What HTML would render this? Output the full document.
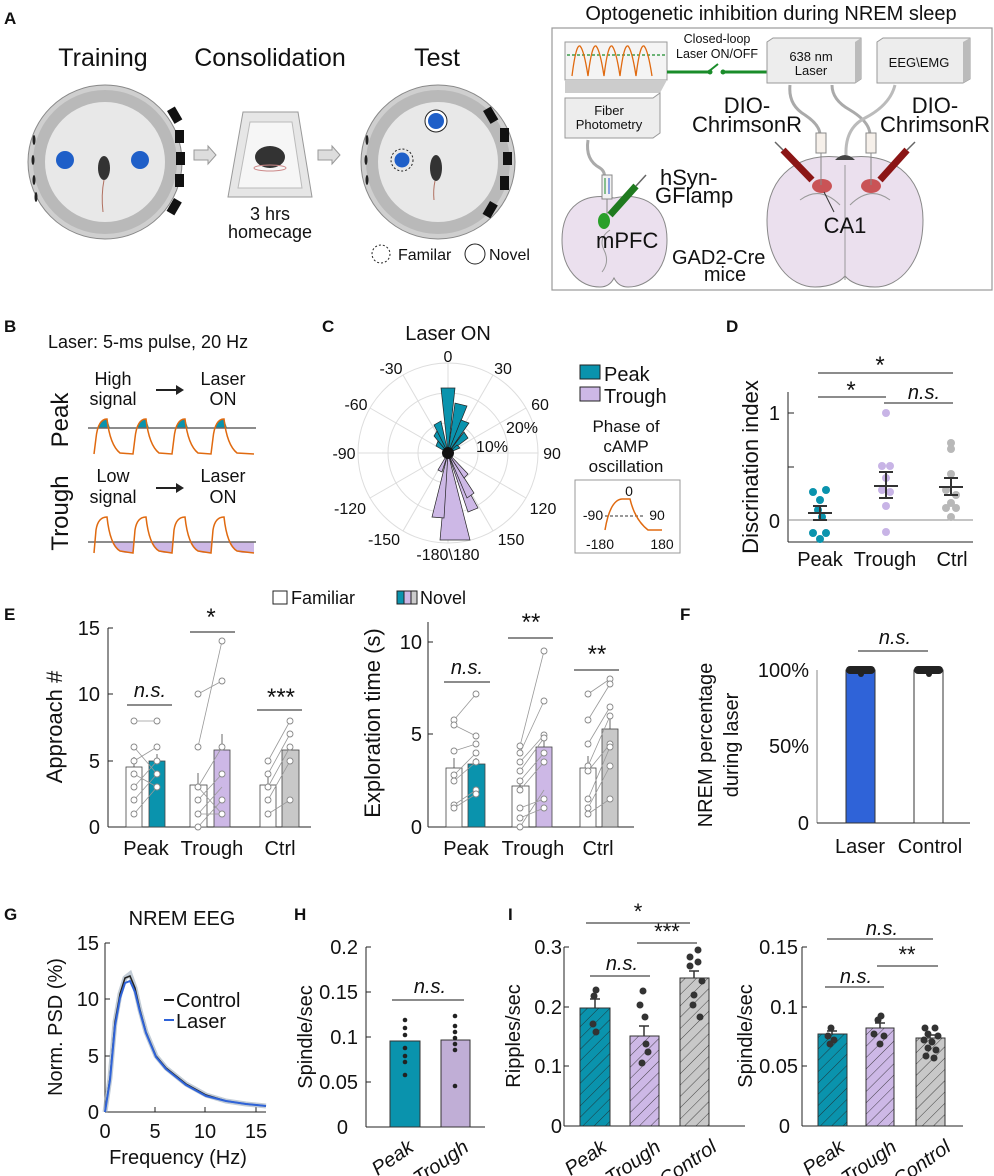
<!DOCTYPE html>
<html><head><meta charset="utf-8"><style>
html,body{margin:0;padding:0;background:#fff}
svg{display:block}
text{font-family:"Liberation Sans",Arial,sans-serif;fill:#111}
</style></head><body>
<svg width="994" height="1176" viewBox="0 0 994 1176" xmlns="http://www.w3.org/2000/svg">
<defs>
<pattern id="hatch" width="8" height="8" patternUnits="userSpaceOnUse" patternTransform="rotate(45)">
<line x1="0" y1="0" x2="0" y2="8" stroke="#222" stroke-width="0.8"/></pattern>
</defs>
<!-- ===== Panel A ===== -->
<text x="4" y="24" font-size="17" font-weight="bold">A</text>
<text x="103" y="66" font-size="25" text-anchor="middle">Training</text>
<text x="270" y="66" font-size="25" text-anchor="middle">Consolidation</text>
<text x="437" y="66" font-size="25" text-anchor="middle">Test</text>
<!-- training arena -->
<g>
<circle cx="105" cy="162" r="77" fill="#cfcfcf" stroke="#888" stroke-width="1"/>
<circle cx="105" cy="162" r="72" fill="#b9b9b9"/>
<circle cx="105" cy="162" r="60" fill="#e8e8e8"/>
<g fill="#111">
<rect x="170" y="108" width="9" height="15" transform="rotate(-30 174 115)"/>
<rect x="175" y="130" width="9" height="13"/>
<rect x="176" y="152" width="9" height="13"/>
<rect x="175" y="174" width="9" height="13"/>
<rect x="170" y="199" width="9" height="15" transform="rotate(30 174 206)"/>
</g>
<g fill="#222"><ellipse cx="34" cy="140" rx="1.5" ry="5"/><ellipse cx="33" cy="160" rx="1.5" ry="5"/><ellipse cx="34" cy="180" rx="1.5" ry="5"/><ellipse cx="36" cy="197" rx="1.5" ry="5"/></g>
<circle cx="65" cy="160" r="9" fill="#1f5fc8"/>
<circle cx="140" cy="160" r="9" fill="#1f5fc8"/>
<ellipse cx="104" cy="168" rx="6" ry="12" fill="#333"/>
<path d="M104 180 Q101 195 103 212" stroke="#b07060" fill="none" stroke-width="1"/>
</g>
<path d="M194 150 h14 v-4 l8 9 l-8 9 v-4 h-14 z" fill="#ddd" stroke="#999"/>
<path d="M318 150 h14 v-4 l8 9 l-8 9 v-4 h-14 z" fill="#ddd" stroke="#999"/>
<!-- cage -->
<path d="M243 112 L298 112 L312 197 L228 197 Z" fill="#e6e6e6" stroke="#999"/>
<path d="M250 122 L292 122 L302 188 L238 188 Z" fill="#f6f6f6" stroke="#bbb"/>
<ellipse cx="270" cy="157" rx="15" ry="11" fill="#333"/>
<ellipse cx="270" cy="168" rx="16" ry="3" fill="none" stroke="#c88" />
<text x="270" y="220" font-size="18" text-anchor="middle">3 hrs</text>
<text x="270" y="238" font-size="18" text-anchor="middle">homecage</text>
<!-- test arena -->
<g>
<circle cx="438" cy="162" r="77" fill="#cfcfcf" stroke="#888" stroke-width="1"/>
<circle cx="438" cy="162" r="72" fill="#b9b9b9"/>
<circle cx="438" cy="162" r="60" fill="#e8e8e8"/>
<g fill="#111">
<rect x="486" y="108" width="9" height="15" transform="rotate(-30 490 115)"/>
<rect x="500" y="128" width="9" height="14"/>
<rect x="503" y="152" width="9" height="13"/>
<rect x="500" y="176" width="9" height="14"/>
<rect x="486" y="202" width="9" height="15" transform="rotate(30 490 209)"/>
</g>
<g fill="#222"><ellipse cx="367" cy="140" rx="1.5" ry="5"/><ellipse cx="366" cy="160" rx="1.5" ry="5"/><ellipse cx="367" cy="180" rx="1.5" ry="5"/></g>
<circle cx="402" cy="160" r="11" fill="none" stroke="#222" stroke-dasharray="2 2"/>
<circle cx="402" cy="160" r="7.5" fill="#1f5fc8"/>
<circle cx="436" cy="121" r="11" fill="#fff" stroke="#222"/>
<circle cx="436" cy="121" r="8" fill="#1f5fc8"/>
<ellipse cx="436" cy="168" rx="6" ry="13" fill="#333"/>
<path d="M435 181 Q433 190 434 200" stroke="#b07060" fill="none"/>
</g>
<circle cx="381" cy="254" r="9" fill="none" stroke="#222" stroke-dasharray="2 2"/>
<text x="398" y="260" font-size="16">Familar</text>
<circle cx="475" cy="254" r="10" fill="none" stroke="#222"/>
<text x="489" y="260" font-size="16">Novel</text>
<!-- right box -->
<text x="771" y="20" font-size="20" text-anchor="middle">Optogenetic inhibition during NREM sleep</text>
<rect x="552" y="28" width="440" height="262" fill="#fff" stroke="#999" stroke-width="1.2"/>
<!-- monitor -->
<path d="M565 42 L667 42 L667 80 L565 80 Z" fill="#f4f4f4" stroke="#999"/>
<path d="M565 80 L667 80 L660 93 L565 93 Z" fill="#ccc"/>
<line x1="567" y1="55" x2="667" y2="55" stroke="#1a8c2a" stroke-dasharray="3 2" stroke-width="1.2"/>
<path d="M572 76 Q576 44 580 46 Q584 50 588 76 Q592 44 596 46 Q600 50 604 76 Q608 44 612 46 Q616 50 620 76 Q624 44 628 46 Q632 50 636 76 Q640 44 644 46 Q648 50 652 76" fill="none" stroke="#e06a10" stroke-width="1.3"/>
<line x1="667" y1="72" x2="708" y2="72" stroke="#1a8c2a" stroke-width="3"/>
<line x1="708" y1="72" x2="718" y2="64" stroke="#1a8c2a" stroke-width="2"/>
<line x1="722" y1="72" x2="767" y2="72" stroke="#1a8c2a" stroke-width="3"/>
<circle cx="710" cy="72" r="2.5" fill="#1a8c2a"/><circle cx="723" cy="72" r="2.5" fill="#1a8c2a"/>
<text x="717" y="43" font-size="12.5" text-anchor="middle">Closed-loop</text>
<text x="717" y="58" font-size="12.5" text-anchor="middle">Laser ON/OFF</text>
<!-- fiber photometry -->
<path d="M565 98 L653 98 L660 93 L660 133 L653 138 L565 138 Z" fill="#ededed" stroke="#999"/>
<text x="609" y="115" font-size="13" text-anchor="middle">Fiber</text>
<text x="609" y="129" font-size="13" text-anchor="middle">Photometry</text>
<!-- laser -->
<path d="M767 42 L773 38 L861 38 L861 79 L855 83 L767 83 Z" fill="#ededed" stroke="#999"/>
<path d="M855 42 L861 38 L861 79 L855 83 Z" fill="#bbb"/>
<text x="811" y="61" font-size="13" text-anchor="middle">638 nm</text>
<text x="811" y="75" font-size="13" text-anchor="middle">Laser</text>
<path d="M877 42 L883 38 L970 38 L970 79 L963 83 L877 83 Z" fill="#ededed" stroke="#999"/>
<path d="M963 42 L970 38 L970 79 L963 83 Z" fill="#bbb"/>
<text x="919" y="67" font-size="13" text-anchor="middle">EEG\EMG</text>
<!-- cables -->
<path d="M588 140 Q585 160 600 168 Q606 172 604 180" fill="none" stroke="#aaa" stroke-width="3"/>
<path d="M790 85 Q788 105 805 115 Q820 125 820 135" fill="none" stroke="#aaa" stroke-width="3"/>
<path d="M832 85 Q832 100 850 110 Q870 122 870 135" fill="none" stroke="#aaa" stroke-width="3"/>
<path d="M895 85 Q890 105 865 118 Q845 128 846 155" fill="none" stroke="#bbb" stroke-width="3"/>
<!-- mPFC brain -->
<path d="M614 198 C585 192 562 205 562 240 C562 270 580 287 600 287 C608 287 612 282 614 278 C616 282 620 287 628 287 C648 287 667 270 667 240 C667 205 643 192 614 198 Z" fill="#ebe0ee" stroke="#888"/>
<path d="M610 230 Q598 238 604 250 Q610 262 602 272" fill="none" stroke="#999"/>
<rect x="602" y="175" width="10" height="24" fill="#f2f2f2" stroke="#888"/>
<line x1="605" y1="178" x2="605" y2="194" stroke="#1a8c2a"/><line x1="609" y1="178" x2="609" y2="194" stroke="#2050d0"/>
<line x1="607" y1="199" x2="607" y2="226" stroke="#888"/>
<ellipse cx="604" cy="221" rx="6" ry="8" fill="#2aa02a"/>
<line x1="610" y1="215" x2="636" y2="186" stroke="#1f7a1f" stroke-width="7"/>
<line x1="636" y1="186" x2="646" y2="175" stroke="#666" stroke-width="1.5"/>
<text x="660" y="185" font-size="22">hSyn-</text>
<text x="655" y="203" font-size="22">GFlamp</text>
<text x="596" y="248" font-size="22">mPFC</text>
<text x="672" y="264" font-size="20">GAD2-Cre</text>
<text x="725" y="281" font-size="20" text-anchor="middle">mice</text>
<!-- CA1 brain -->
<path d="M845 158 C800 150 767 175 767 220 C767 262 790 287 815 287 C830 287 840 282 845 276 C850 282 860 287 875 287 C900 287 923 262 923 220 C923 175 890 150 845 158 Z" fill="#ebe0ee" stroke="#888"/>
<path d="M835 160 Q845 150 855 160 Z" fill="#444"/>
<path d="M800 200 Q820 185 840 205 M890 200 Q870 185 850 205 M845 165 L845 280" fill="none" stroke="#999"/>
<ellipse cx="822" cy="186" rx="10" ry="7" fill="#c03030" opacity="0.8"/>
<ellipse cx="871" cy="186" rx="10" ry="7" fill="#c03030" opacity="0.8"/>
<rect x="816" y="133" width="10" height="20" fill="#f6f0ea" stroke="#888"/>
<rect x="866" y="133" width="10" height="20" fill="#f6f0ea" stroke="#888"/>
<line x1="821" y1="153" x2="821" y2="185" stroke="#888"/><line x1="871" y1="153" x2="871" y2="185" stroke="#888"/>
<line x1="783" y1="150" x2="812" y2="180" stroke="#8b1515" stroke-width="7"/>
<line x1="907" y1="150" x2="880" y2="180" stroke="#8b1515" stroke-width="7"/>
<line x1="775" y1="142" x2="783" y2="150" stroke="#666" stroke-width="1.5"/>
<line x1="915" y1="142" x2="907" y2="150" stroke="#666" stroke-width="1.5"/>
<line x1="824" y1="192" x2="834" y2="212" stroke="#333"/>
<text x="747" y="113" font-size="22" text-anchor="middle">DIO-</text>
<text x="747" y="132" font-size="22" text-anchor="middle">ChrimsonR</text>
<text x="935" y="113" font-size="22" text-anchor="middle">DIO-</text>
<text x="935" y="132" font-size="22" text-anchor="middle">ChrimsonR</text>
<text x="845" y="233" font-size="22" text-anchor="middle">CA1</text>

<!-- ===== Panel B ===== -->
<text x="4" y="332" font-size="17" font-weight="bold">B</text>
<text x="48" y="348" font-size="18">Laser: 5-ms pulse, 20 Hz</text>
<text transform="translate(68,420) rotate(-90)" font-size="24" text-anchor="middle">Peak</text>
<text transform="translate(68,513) rotate(-90)" font-size="24" text-anchor="middle">Trough</text>
<text x="113" y="385" font-size="18" text-anchor="middle">High</text>
<text x="113" y="405" font-size="18" text-anchor="middle">signal</text>
<text x="223" y="385" font-size="18" text-anchor="middle">Laser</text>
<text x="223" y="405" font-size="18" text-anchor="middle">ON</text>
<path d="M156 390 h22" stroke="#222" stroke-width="2"/><path d="M176 385 l8 5 l-8 5z" fill="#222"/>
<text x="113" y="482" font-size="18" text-anchor="middle">Low</text>
<text x="113" y="503" font-size="18" text-anchor="middle">signal</text>
<text x="223" y="482" font-size="18" text-anchor="middle">Laser</text>
<text x="223" y="503" font-size="18" text-anchor="middle">ON</text>
<path d="M156 488 h22" stroke="#222" stroke-width="2"/><path d="M176 483 l8 5 l-8 5z" fill="#222"/>
<!-- peak trace -->
<g fill="#0a93ad">
<path d="M98 428 Q100 419 107 419 L110 428 Z"/><path d="M137 428 Q139 419 146 419 L149 428 Z"/><path d="M176 428 Q178 419 185 419 L188 428 Z"/><path d="M215 428 Q217 419 224 419 L227 428 Z"/>
</g>
<line x1="88" y1="428" x2="256" y2="428" stroke="#666" stroke-width="1.5"/>
<path d="M94 454 L96 438 Q98 419 107 419 Q110 445 120 453 L133 454 L135 438 Q137 419 146 419 Q149 445 159 453 L172 454 L174 438 Q176 419 185 419 Q188 445 198 453 L211 454 L213 438 Q215 419 224 419 Q227 445 237 453 L254 454" fill="none" stroke="#e06a10" stroke-width="1.5"/>
<!-- trough trace -->
<g fill="#cdb8e6">
<path d="M112 542 Q115 551 125 553 L133 553 L133 542 Z"/><path d="M151 542 Q154 551 164 553 L172 553 L172 542 Z"/><path d="M190 542 Q193 551 203 553 L211 553 L211 542 Z"/><path d="M229 542 Q232 551 242 553 L254 553 L254 542 Z"/>
</g>
<line x1="88" y1="542" x2="256" y2="542" stroke="#666" stroke-width="1.5"/>
<path d="M94 553 L96 530 Q98 517 107 517 Q110 545 120 551 L133 553 L135 530 Q137 517 146 517 Q149 545 159 551 L172 553 L174 530 Q176 517 185 517 Q188 545 198 551 L211 553 L213 530 Q215 517 224 517 Q227 545 237 551 L254 553" fill="none" stroke="#e06a10" stroke-width="1.5"/>

<!-- ===== Panel C ===== -->
<text x="322" y="332" font-size="17" font-weight="bold">C</text>
<text x="448" y="340" font-size="20" text-anchor="middle">Laser ON</text>
<g stroke="#ddd" fill="none" stroke-width="1">
<circle cx="448" cy="453" r="90"/><circle cx="448" cy="453" r="60"/><circle cx="448" cy="453" r="30"/>
<line x1="358" y1="453" x2="538" y2="453"/><line x1="448" y1="363" x2="448" y2="543"/>
<line x1="403" y1="375" x2="493" y2="531"/><line x1="493" y1="375" x2="403" y2="531"/>
<line x1="370" y1="408" x2="526" y2="498"/><line x1="526" y1="408" x2="370" y2="498"/>
</g>
<g stroke="#222" stroke-width="0.7">
<path d="M448 453 L441 388 L455 388 Z" fill="#0a93ad"/>
<path d="M448 453 L455 403 L467 406 Z" fill="#0a93ad"/>
<path d="M448 453 L461 420 L469 423 Z" fill="#0a93ad"/>
<path d="M448 453 L464 432 L468 438 Z" fill="#0a93ad"/>
<path d="M448 453 L434 425 L441 421 Z" fill="#0a93ad"/>
<path d="M448 453 L434 436 L437 431 Z" fill="#0a93ad"/>
<path d="M448 453 L436 446 L438 441 Z" fill="#0a93ad"/>
<path d="M448 453 L457 445 L460 448 Z" fill="#0a93ad"/>
<path d="M448 453 L440 540 L470 540 Z" fill="#cdb8e6"/>
<path d="M448 453 L478 508 L468 512 Z" fill="#cdb8e6"/>
<path d="M448 453 L474 493 L467 498 Z" fill="#cdb8e6"/>
<path d="M448 453 L432 517 L444 518 Z" fill="#cdb8e6"/>
<path d="M448 453 L468 474 L464 478 Z" fill="#cdb8e6"/>
<path d="M448 453 L438 470 L442 472 Z" fill="#cdb8e6"/>
</g>
<circle cx="448" cy="453" r="6" fill="#111"/>
<g font-size="16" text-anchor="middle">
<text x="448" y="362">0</text><text x="391" y="374">-30</text><text x="503" y="374">30</text>
<text x="356" y="410">-60</text><text x="540" y="410">60</text>
<text x="344" y="459">-90</text><text x="552" y="459">90</text>
<text x="350" y="514">-120</text><text x="543" y="514">120</text>
<text x="384" y="545">-150</text><text x="511" y="545">150</text>
<text x="448" y="560">-180\180</text>
<text x="522" y="433">20%</text><text x="492" y="452">10%</text>
</g>
<rect x="580" y="365" width="20" height="14" fill="#0a93ad" stroke="#222"/>
<text x="604" y="381" font-size="20">Peak</text>
<rect x="580" y="387" width="20" height="14" fill="#cdb8e6" stroke="#222"/>
<text x="604" y="403" font-size="20">Trough</text>
<text x="626" y="432" font-size="17" text-anchor="middle">Phase of</text>
<text x="626" y="452" font-size="17" text-anchor="middle">cAMP</text>
<text x="626" y="472" font-size="17" text-anchor="middle">oscillation</text>
<rect x="575" y="480" width="105" height="73" fill="#fff" stroke="#999"/>
<text x="629" y="496" font-size="14" text-anchor="middle">0</text>
<text x="593" y="520" font-size="14" text-anchor="middle">-90</text>
<text x="657" y="520" font-size="14" text-anchor="middle">90</text>
<text x="600" y="549" font-size="14" text-anchor="middle">-180</text>
<text x="662" y="549" font-size="14" text-anchor="middle">180</text>
<line x1="605" y1="516" x2="645" y2="516" stroke="#333" stroke-dasharray="3 2"/>
<path d="M605 530 Q610 500 622 499 L630 499 Q635 520 648 530 L662 530" fill="none" stroke="#e06a10" stroke-width="1.5"/>

<!-- ===== Panel D ===== -->
<text x="726" y="332" font-size="17" font-weight="bold">D</text>
<text transform="translate(758,467) rotate(-90)" font-size="22" text-anchor="middle">Discrination index</text>
<line x1="788" y1="392" x2="788" y2="542" stroke="#222"/>
<line x1="788" y1="542" x2="973" y2="542" stroke="#222"/>
<line x1="788" y1="520" x2="973" y2="520" stroke="#888"/>
<line x1="788" y1="413" x2="794" y2="413" stroke="#222"/><line x1="788" y1="467" x2="794" y2="467" stroke="#222"/>
<text x="780" y="420" font-size="20" text-anchor="end">1</text>
<text x="780" y="528" font-size="20" text-anchor="end">0</text>
<line x1="818" y1="373" x2="953" y2="373" stroke="#666" stroke-width="1.5"/>
<text x="880" y="373" font-size="24" text-anchor="middle">*</text>
<line x1="818" y1="397" x2="886" y2="397" stroke="#666" stroke-width="1.5"/>
<text x="851" y="398" font-size="24" text-anchor="middle">*</text>
<line x1="884" y1="403" x2="953" y2="403" stroke="#666" stroke-width="1.5"/>
<text x="924" y="399" font-size="20" font-style="italic" text-anchor="middle">n.s.</text>
<g fill="#0a93ad"><circle cx="813" cy="492" r="4"/><circle cx="826" cy="490" r="4"/><circle cx="820" cy="500" r="4"/><circle cx="818" cy="510" r="4"/><circle cx="822" cy="517" r="4"/><circle cx="813" cy="533" r="4"/><circle cx="826" cy="533" r="4"/><circle cx="820" cy="539" r="4"/></g>
<g fill="#c8b4e6"><circle cx="886" cy="413" r="4"/><circle cx="882" cy="466" r="4"/><circle cx="890" cy="466" r="4"/><circle cx="886" cy="478" r="4"/><circle cx="882" cy="490" r="4"/><circle cx="890" cy="492" r="4"/><circle cx="886" cy="506" r="4"/><circle cx="886" cy="532" r="4"/></g>
<g fill="#b8b8b8"><circle cx="951" cy="443" r="4"/><circle cx="951" cy="449" r="4"/><circle cx="951" cy="474" r="4"/><circle cx="946" cy="490" r="4"/><circle cx="956" cy="495" r="4"/><circle cx="951" cy="503" r="4"/><circle cx="946" cy="508" r="4"/><circle cx="956" cy="508" r="4"/><circle cx="951" cy="517" r="4"/></g>
<g stroke="#333" stroke-width="2">
<line x1="808" y1="513" x2="832" y2="513"/><line x1="820" y1="506" x2="820" y2="520"/><line x1="813" y1="506" x2="827" y2="506"/><line x1="813" y1="520" x2="827" y2="520"/>
<line x1="874" y1="486" x2="898" y2="486"/><line x1="886" y1="472" x2="886" y2="498"/><line x1="879" y1="472" x2="893" y2="472"/><line x1="879" y1="498" x2="893" y2="498"/>
<line x1="939" y1="487" x2="963" y2="487"/><line x1="951" y1="478" x2="951" y2="495"/><line x1="944" y1="478" x2="958" y2="478"/><line x1="944" y1="495" x2="958" y2="495"/>
</g>
<text x="820" y="566" font-size="20" text-anchor="middle">Peak</text>
<text x="885" y="566" font-size="20" text-anchor="middle">Trough</text>
<text x="952" y="566" font-size="20" text-anchor="middle">Ctrl</text>

<!-- ===== Panel E ===== -->
<text x="4" y="620" font-size="17" font-weight="bold">E</text>
<rect x="273" y="591" width="14" height="13" fill="#fff" stroke="#222"/>
<text x="291" y="604" font-size="18">Familiar</text>
<rect x="397" y="591" width="7" height="13" fill="#0a93ad" stroke="#222"/><rect x="404" y="591" width="7" height="13" fill="#cdb8e6" stroke="#222"/><rect x="411" y="591" width="6" height="13" fill="#ccc" stroke="#222"/>
<text x="420" y="604" font-size="18">Novel</text>
<!-- left E -->
<text transform="translate(62,727) rotate(-90)" font-size="22" text-anchor="middle">Approach #</text>
<line x1="108" y1="628" x2="108" y2="827" stroke="#222"/>
<line x1="108" y1="827" x2="311" y2="827" stroke="#222"/>
<g stroke="#222"><line x1="108" y1="628" x2="113" y2="628"/><line x1="108" y1="694" x2="113" y2="694"/><line x1="108" y1="761" x2="113" y2="761"/></g>
<g font-size="20" text-anchor="end"><text x="100" y="635">15</text><text x="100" y="701">10</text><text x="100" y="768">5</text><text x="100" y="834">0</text></g>
<g stroke="#444" stroke-width="0.8">
<rect x="126" y="767" width="16" height="60" fill="#fff"/><rect x="149" y="761" width="16" height="66" fill="#0a93ad"/>
<rect x="190" y="785" width="17" height="42" fill="#fff"/><rect x="214" y="750" width="16" height="77" fill="#cdb8e6"/>
<rect x="260" y="785" width="16" height="42" fill="#fff"/><rect x="282" y="750" width="17" height="77" fill="#c8c8c8"/>
<path d="M134 767 V757 M157 761 V754 M198 785 V773 M222 750 V734 M268 785 V777 M290 750 V744" fill="none"/>
</g>
<g stroke="#999" stroke-width="0.8" fill="none">
<path d="M134 721 L157 721 M134 747 L157 774 M134 761 L157 747 M134 774 L157 787 M134 787 L157 761 M134 800 L157 774 M134 814 L157 787"/>
<path d="M198 694 L222 681 M198 747 L222 641 M198 787 L222 747 M198 800 L222 774 M198 814 L222 787 M198 827 L222 800 M198 787 L222 814 M198 814 L222 814"/>
<path d="M268 761 L290 721 M268 774 L290 734 M268 787 L290 747 M268 800 L290 761 M268 814 L290 800"/>
</g>
<g fill="#fff" stroke="#888" stroke-width="0.9">
<circle cx="134" cy="721" r="3"/><circle cx="134" cy="747" r="3"/><circle cx="134" cy="761" r="3"/><circle cx="134" cy="774" r="3"/><circle cx="134" cy="787" r="3"/><circle cx="134" cy="800" r="3"/><circle cx="134" cy="814" r="3"/>
<circle cx="157" cy="721" r="3"/><circle cx="157" cy="747" r="3"/><circle cx="157" cy="761" r="3"/><circle cx="157" cy="774" r="3"/><circle cx="157" cy="787" r="3"/>
<circle cx="198" cy="694" r="3"/><circle cx="198" cy="747" r="3"/><circle cx="198" cy="787" r="3"/><circle cx="198" cy="800" r="3"/><circle cx="198" cy="814" r="3"/><circle cx="198" cy="827" r="3"/>
<circle cx="222" cy="641" r="3"/><circle cx="222" cy="681" r="3"/><circle cx="222" cy="747" r="3"/><circle cx="222" cy="774" r="3"/><circle cx="222" cy="800" r="3"/><circle cx="222" cy="814" r="3"/>
<circle cx="268" cy="761" r="3"/><circle cx="268" cy="774" r="3"/><circle cx="268" cy="787" r="3"/><circle cx="268" cy="800" r="3"/><circle cx="268" cy="814" r="3"/>
<circle cx="290" cy="721" r="3"/><circle cx="290" cy="734" r="3"/><circle cx="290" cy="747" r="3"/><circle cx="290" cy="761" r="3"/><circle cx="290" cy="800" r="3"/>
</g>
<g stroke="#666" stroke-width="1.5"><line x1="127" y1="705" x2="172" y2="705"/><line x1="190" y1="632" x2="235" y2="632"/><line x1="257" y1="710" x2="302" y2="710"/></g>
<text x="150" y="697" font-size="20" font-style="italic" text-anchor="middle">n.s.</text>
<text x="211" y="625" font-size="24" text-anchor="middle">*</text>
<text x="281" y="705" font-size="24" text-anchor="middle">***</text>
<text x="146" y="855" font-size="20" text-anchor="middle">Peak</text>
<text x="212" y="855" font-size="20" text-anchor="middle">Trough</text>
<text x="280" y="855" font-size="20" text-anchor="middle">Ctrl</text>
<!-- right E -->
<text transform="translate(380,723) rotate(-90)" font-size="22" text-anchor="middle">Exploration time (s)</text>
<line x1="428" y1="622" x2="428" y2="827" stroke="#222"/>
<line x1="428" y1="827" x2="634" y2="827" stroke="#222"/>
<g stroke="#222"><line x1="428" y1="642" x2="433" y2="642"/><line x1="428" y1="734" x2="433" y2="734"/></g>
<g font-size="20" text-anchor="end"><text x="422" y="649">10</text><text x="422" y="741">5</text><text x="422" y="834">0</text></g>
<g stroke="#444" stroke-width="0.8">
<rect x="446" y="768" width="16" height="59" fill="#fff"/><rect x="468" y="764" width="17" height="63" fill="#0a93ad"/>
<rect x="512" y="786" width="17" height="41" fill="#fff"/><rect x="536" y="747" width="16" height="80" fill="#cdb8e6"/>
<rect x="580" y="768" width="16" height="59" fill="#fff"/><rect x="602" y="729" width="16" height="98" fill="#c8c8c8"/>
<path d="M454 768 V758 M476 764 V758 M520 786 V778 M544 747 V735 M588 768 V756 M610 729 V716" fill="none"/>
</g>
<g stroke="#999" stroke-width="0.8" fill="none">
<path d="M454 720 L476 694 M454 725 L476 736 M454 751 L476 744 M454 775 L476 753 M454 781 L476 762 M454 805 L476 790 M454 808 L476 794"/>
<path d="M520 746 L544 651 M520 753 L544 701 M520 762 L544 735 M520 771 L544 738 M520 781 L544 753 M520 790 L544 762 M520 808 L544 799 M520 818 L544 808 M520 827 L544 790"/>
<path d="M588 694 L610 679 M588 720 L610 684 M588 744 L610 707 M588 766 L610 716 M588 771 L610 744 M588 799 L610 747 M588 808 L610 766 M588 814 L610 799"/>
</g>
<g fill="#fff" stroke="#888" stroke-width="0.9">
<circle cx="454" cy="720" r="3"/><circle cx="454" cy="725" r="3"/><circle cx="454" cy="751" r="3"/><circle cx="454" cy="775" r="3"/><circle cx="454" cy="781" r="3"/><circle cx="454" cy="805" r="3"/><circle cx="454" cy="808" r="3"/>
<circle cx="476" cy="694" r="3"/><circle cx="476" cy="736" r="3"/><circle cx="476" cy="744" r="3"/><circle cx="476" cy="753" r="3"/><circle cx="476" cy="762" r="3"/><circle cx="476" cy="790" r="3"/><circle cx="476" cy="794" r="3"/>
<circle cx="520" cy="746" r="3"/><circle cx="520" cy="753" r="3"/><circle cx="520" cy="762" r="3"/><circle cx="520" cy="771" r="3"/><circle cx="520" cy="781" r="3"/><circle cx="520" cy="790" r="3"/><circle cx="520" cy="808" r="3"/><circle cx="520" cy="818" r="3"/><circle cx="520" cy="827" r="3"/>
<circle cx="544" cy="651" r="3"/><circle cx="544" cy="701" r="3"/><circle cx="544" cy="735" r="3"/><circle cx="544" cy="738" r="3"/><circle cx="544" cy="753" r="3"/><circle cx="544" cy="762" r="3"/><circle cx="544" cy="799" r="3"/><circle cx="544" cy="808" r="3"/>
<circle cx="588" cy="694" r="3"/><circle cx="588" cy="720" r="3"/><circle cx="588" cy="744" r="3"/><circle cx="588" cy="766" r="3"/><circle cx="588" cy="771" r="3"/><circle cx="588" cy="799" r="3"/><circle cx="588" cy="808" r="3"/><circle cx="588" cy="814" r="3"/>
<circle cx="610" cy="679" r="3"/><circle cx="610" cy="684" r="3"/><circle cx="610" cy="707" r="3"/><circle cx="610" cy="716" r="3"/><circle cx="610" cy="744" r="3"/><circle cx="610" cy="747" r="3"/><circle cx="610" cy="766" r="3"/><circle cx="610" cy="799" r="3"/>
</g>
<g stroke="#666" stroke-width="1.5"><line x1="444" y1="682" x2="490" y2="682"/><line x1="508" y1="638" x2="553" y2="638"/><line x1="574" y1="670" x2="619" y2="670"/></g>
<text x="467" y="674" font-size="20" font-style="italic" text-anchor="middle">n.s.</text>
<text x="531" y="630" font-size="24" text-anchor="middle">**</text>
<text x="597" y="662" font-size="24" text-anchor="middle">**</text>
<text x="466" y="855" font-size="20" text-anchor="middle">Peak</text>
<text x="533" y="855" font-size="20" text-anchor="middle">Trough</text>
<text x="598" y="855" font-size="20" text-anchor="middle">Ctrl</text>

<!-- ===== Panel F ===== -->
<text x="680" y="620" font-size="17" font-weight="bold">F</text>
<text transform="translate(712,745) rotate(-90)" font-size="20" text-anchor="middle">NREM percentage</text>
<text transform="translate(738,745) rotate(-90)" font-size="20" text-anchor="middle">during laser</text>
<line x1="817" y1="670" x2="817" y2="823" stroke="#888"/>
<line x1="817" y1="823" x2="970" y2="823" stroke="#222"/>
<g font-size="20" text-anchor="end"><text x="809" y="677">100%</text><text x="809" y="753">50%</text><text x="809" y="830">0</text></g>
<rect x="846" y="670" width="29" height="153" fill="#2f63d8" stroke="#333"/>
<rect x="914" y="670" width="29" height="153" fill="#fff" stroke="#333"/>
<g fill="#222"><rect x="846" y="666" width="29" height="8" rx="4"/><circle cx="861" cy="674" r="3"/><rect x="914" y="666" width="29" height="8" rx="4"/><circle cx="929" cy="674" r="3"/></g>
<line x1="858" y1="651" x2="928" y2="651" stroke="#666" stroke-width="1.5"/>
<text x="895" y="644" font-size="20" font-style="italic" text-anchor="middle">n.s.</text>
<text x="860" y="853" font-size="20" text-anchor="middle">Laser</text>
<text x="930" y="853" font-size="20" text-anchor="middle">Control</text>

<!-- ===== Panel G ===== -->
<text x="4" y="920" font-size="17" font-weight="bold">G</text>
<text x="182" y="925" font-size="20" text-anchor="middle">NREM EEG</text>
<text transform="translate(62,1027) rotate(-90)" font-size="20" text-anchor="middle">Norm. PSD (%)</text>
<line x1="105" y1="943" x2="105" y2="1112" stroke="#222"/>
<line x1="105" y1="1112" x2="266" y2="1112" stroke="#222"/>
<g stroke="#222"><line x1="105" y1="943" x2="110" y2="943"/><line x1="105" y1="999" x2="110" y2="999"/><line x1="105" y1="1056" x2="110" y2="1056"/>
<line x1="155" y1="1112" x2="155" y2="1107"/><line x1="205" y1="1112" x2="205" y2="1107"/><line x1="256" y1="1112" x2="256" y2="1107"/></g>
<g font-size="20" text-anchor="end"><text x="99" y="950">15</text><text x="99" y="1006">10</text><text x="99" y="1063">5</text><text x="99" y="1119">0</text></g>
<g font-size="20" text-anchor="middle"><text x="105" y="1138">0</text><text x="155" y="1138">5</text><text x="205" y="1138">10</text><text x="256" y="1138">15</text></g>
<text x="178" y="1164" font-size="20" text-anchor="middle">Frequency (Hz)</text>
<path d="M105 1112 L110 1078 L115 1022 L120 994 L125 978 L130 974 L135 988 L140 1010 L146 1032 L156 1056 L166 1068 L176 1076 L186 1084 L206 1095 L226 1101 L246 1104 L266 1106" fill="none" stroke="#9ab" stroke-width="5" opacity="0.6"/>
<path d="M105 1112 L110 1078 L115 1022 L120 994 L125 978 L130 976 L135 988 L140 1010 L146 1032 L156 1056 L166 1068 L176 1076 L186 1084 L206 1095 L226 1101 L246 1104 L266 1106" fill="none" stroke="#222" stroke-width="1.5"/>
<path d="M105 1112 L110 1080 L115 1026 L120 998 L125 983 L130 981 L135 992 L140 1012 L146 1033 L156 1057 L166 1069 L176 1077 L186 1085 L206 1096 L226 1101 L246 1104 L266 1106" fill="none" stroke="#2f63d8" stroke-width="2"/>
<line x1="164" y1="1000" x2="174" y2="1000" stroke="#222" stroke-width="2"/>
<text x="176" y="1007" font-size="20">Control</text>
<line x1="164" y1="1020" x2="174" y2="1020" stroke="#2f63d8" stroke-width="2"/>
<text x="176" y="1028" font-size="20">Laser</text>

<!-- ===== Panel H ===== -->
<text x="294" y="920" font-size="17" font-weight="bold">H</text>
<text transform="translate(312,1037) rotate(-90)" font-size="20" text-anchor="middle">Spindle/sec</text>
<line x1="366" y1="947" x2="366" y2="1127" stroke="#222"/>
<line x1="366" y1="1127" x2="485" y2="1127" stroke="#222"/>
<g stroke="#222"><line x1="366" y1="947" x2="371" y2="947"/><line x1="366" y1="992" x2="371" y2="992"/><line x1="366" y1="1037" x2="371" y2="1037"/><line x1="366" y1="1082" x2="371" y2="1082"/></g>
<g font-size="20" text-anchor="end"><text x="358" y="954">0.2</text><text x="358" y="999">0.15</text><text x="358" y="1044">0.1</text><text x="358" y="1089">0.05</text><text x="348" y="1134">0</text></g>
<rect x="390" y="1041" width="30" height="86" fill="#0a93ad" stroke="#333"/>
<rect x="441" y="1040" width="29" height="87" fill="#c0aed6" stroke="#333"/>
<g fill="#222"><circle cx="405" cy="1020" r="2.3"/><circle cx="405" cy="1028" r="2.3"/><circle cx="405" cy="1035" r="2.3"/><circle cx="405" cy="1048" r="2.3"/><circle cx="405" cy="1056" r="2.3"/><circle cx="405" cy="1062" r="2.3"/><circle cx="405" cy="1075" r="2.3"/>
<circle cx="455" cy="1016" r="2.3"/><circle cx="455" cy="1026" r="2.3"/><circle cx="455" cy="1032" r="2.3"/><circle cx="455" cy="1038" r="2.3"/><circle cx="455" cy="1044" r="2.3"/><circle cx="455" cy="1050" r="2.3"/><circle cx="455" cy="1086" r="2.3"/></g>
<line x1="392" y1="1000" x2="464" y2="1000" stroke="#666" stroke-width="1.5"/>
<text x="430" y="993" font-size="20" font-style="italic" text-anchor="middle">n.s.</text>
<text transform="translate(415,1150) rotate(-35)" font-size="20" font-style="italic" text-anchor="end">Peak</text>
<text transform="translate(470,1150) rotate(-35)" font-size="20" font-style="italic" text-anchor="end">Trough</text>

<!-- ===== Panel I left ===== -->
<text x="508" y="920" font-size="17" font-weight="bold">I</text>
<text transform="translate(520,1036) rotate(-90)" font-size="20" text-anchor="middle">Ripples/sec</text>
<line x1="564" y1="947" x2="564" y2="1126" stroke="#222"/>
<line x1="564" y1="1126" x2="745" y2="1126" stroke="#222"/>
<g stroke="#222"><line x1="564" y1="947" x2="569" y2="947"/><line x1="564" y1="1007" x2="569" y2="1007"/><line x1="564" y1="1066" x2="569" y2="1066"/></g>
<g font-size="20" text-anchor="end"><text x="562" y="954">0.3</text><text x="562" y="1014">0.2</text><text x="562" y="1073">0.1</text><text x="562" y="1133">0</text></g>
<rect x="580" y="1008" width="30" height="118" fill="#0a93ad" stroke="#333"/><rect x="580" y="1008" width="30" height="118" fill="url(#hatch)"/>
<rect x="630" y="1036" width="29" height="90" fill="#cdb8e6" stroke="#333"/><rect x="630" y="1036" width="29" height="90" fill="url(#hatch)"/>
<rect x="680" y="978" width="29" height="148" fill="#c8c8c8" stroke="#333"/><rect x="680" y="978" width="29" height="148" fill="url(#hatch)"/>
<g stroke="#333" stroke-width="1.5"><path d="M595 1008 V999 M590 999 h10 M644 1036 V1026 M639 1026 h10 M694 978 V971 M689 971 h10"/></g>
<g fill="#333"><circle cx="596" cy="990" r="3.5"/><circle cx="594" cy="996" r="3.5"/><circle cx="593" cy="1024" r="3.5"/><circle cx="596" cy="1032" r="3.5"/>
<circle cx="643" cy="991" r="3.5"/><circle cx="640" cy="1005" r="3.5"/><circle cx="645" cy="1017" r="3.5"/><circle cx="646" cy="1044" r="3.5"/><circle cx="648" cy="1052" r="3.5"/><circle cx="642" cy="1063" r="3.5"/>
<circle cx="698" cy="950" r="3.5"/><circle cx="690" cy="957" r="3.5"/><circle cx="698" cy="962" r="3.5"/><circle cx="690" cy="966" r="3.5"/><circle cx="702" cy="981" r="3.5"/><circle cx="694" cy="995" r="3.5"/><circle cx="693" cy="1005" r="3.5"/><circle cx="700" cy="1017" r="3.5"/></g>
<g stroke="#666" stroke-width="1.5"><line x1="586" y1="923" x2="690" y2="923"/><line x1="637" y1="943" x2="697" y2="943"/><line x1="590" y1="976" x2="650" y2="976"/></g>
<text x="638" y="919" font-size="22" text-anchor="middle">*</text>
<text x="667" y="939" font-size="22" text-anchor="middle">***</text>
<text x="622" y="970" font-size="20" font-style="italic" text-anchor="middle">n.s.</text>
<text transform="translate(608,1150) rotate(-35)" font-size="20" font-style="italic" text-anchor="end">Peak</text>
<text transform="translate(662,1150) rotate(-35)" font-size="20" font-style="italic" text-anchor="end">Trough</text>
<text transform="translate(718,1150) rotate(-35)" font-size="20" font-style="italic" text-anchor="end">Control</text>

<!-- ===== Panel I right ===== -->
<text transform="translate(752,1036) rotate(-90)" font-size="20" text-anchor="middle">Spindle/sec</text>
<line x1="802" y1="947" x2="802" y2="1126" stroke="#222"/>
<line x1="802" y1="1126" x2="963" y2="1126" stroke="#222"/>
<g stroke="#222"><line x1="802" y1="947" x2="807" y2="947"/><line x1="802" y1="1007" x2="807" y2="1007"/><line x1="802" y1="1066" x2="807" y2="1066"/></g>
<g font-size="20" text-anchor="end"><text x="798" y="954">0.15</text><text x="798" y="1014">0.1</text><text x="798" y="1073">0.05</text><text x="790" y="1133">0</text></g>
<rect x="818" y="1034" width="29" height="92" fill="#0a93ad" stroke="#333"/><rect x="818" y="1034" width="29" height="92" fill="url(#hatch)"/>
<rect x="866" y="1028" width="28" height="98" fill="#cdb8e6" stroke="#333"/><rect x="866" y="1028" width="28" height="98" fill="url(#hatch)"/>
<rect x="916" y="1038" width="29" height="88" fill="#c8c8c8" stroke="#333"/><rect x="916" y="1038" width="29" height="88" fill="url(#hatch)"/>
<g stroke="#333" stroke-width="1.5"><path d="M832 1034 V1031 M827 1031 h10 M880 1028 V1023 M875 1023 h10 M930 1038 V1035 M925 1035 h10"/></g>
<g fill="#333"><circle cx="831" cy="1028" r="3.5"/><circle cx="828" cy="1036" r="3.5"/><circle cx="834" cy="1040" r="3.5"/><circle cx="830" cy="1044" r="3.5"/>
<circle cx="881" cy="1016" r="3.5"/><circle cx="878" cy="1020" r="3.5"/><circle cx="874" cy="1034" r="3.5"/><circle cx="884" cy="1036" r="3.5"/><circle cx="880" cy="1044" r="3.5"/>
<circle cx="925" cy="1028" r="3.5"/><circle cx="935" cy="1028" r="3.5"/><circle cx="928" cy="1034" r="3.5"/><circle cx="938" cy="1036" r="3.5"/><circle cx="924" cy="1040" r="3.5"/><circle cx="932" cy="1042" r="3.5"/><circle cx="928" cy="1048" r="3.5"/><circle cx="936" cy="1050" r="3.5"/><circle cx="926" cy="1056" r="3.5"/><circle cx="934" cy="1058" r="3.5"/></g>
<g stroke="#666" stroke-width="1.5"><line x1="827" y1="939" x2="933" y2="939"/><line x1="877" y1="966" x2="938" y2="966"/><line x1="825" y1="987" x2="884" y2="987"/></g>
<text x="882" y="935" font-size="20" font-style="italic" text-anchor="middle">n.s.</text>
<text x="907" y="962" font-size="22" text-anchor="middle">**</text>
<text x="856" y="983" font-size="20" font-style="italic" text-anchor="middle">n.s.</text>
<text transform="translate(846,1150) rotate(-35)" font-size="20" font-style="italic" text-anchor="end">Peak</text>
<text transform="translate(898,1150) rotate(-35)" font-size="20" font-style="italic" text-anchor="end">Trough</text>
<text transform="translate(952,1150) rotate(-35)" font-size="20" font-style="italic" text-anchor="end">Control</text>
</svg>
</body></html>
